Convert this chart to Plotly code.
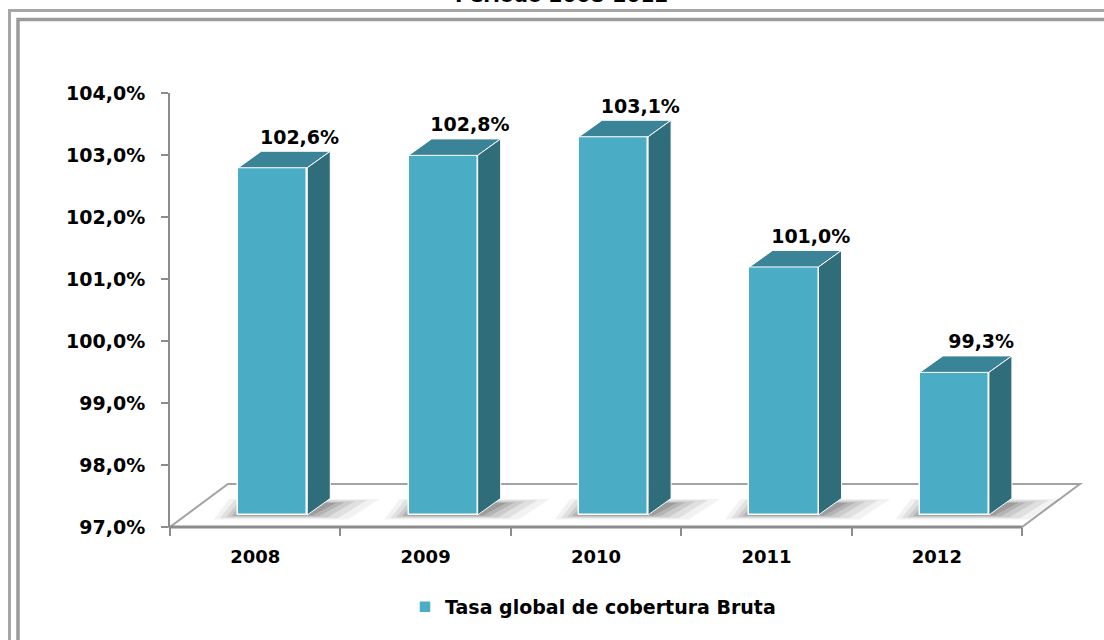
import plotly.graph_objects as go

# ---- data ----
years = ["2008", "2009", "2010", "2011", "2012"]
values = [102.6, 102.8, 103.1, 101.0, 99.3]
series_name = "Tasa global de cobertura Bruta"
title_text = "Periodo 2008-2012"
y_ticks = [97, 98, 99, 100, 101, 102, 103, 104]
y_tick_labels = ["97,0%", "98,0%", "99,0%", "100,0%", "101,0%", "102,0%", "103,0%", "104,0%"]

# ---- style / geometry (in axis units) ----
BASE = 97.0
YMAX = 104.0
FRONT = "#4BACC6"
TOP = "#3B8497"
SIDE = "#306D7B"
FONT = "DejaVu Sans"
W = 0.405          # bar front width
SX, SY = 0.103, 0.194   # shift of bar front plane from axis plane
DX, DY = 0.135, 0.266   # bar depth
FDX, FDY = 0.340, 0.694  # floor depth
X0, X1 = -0.5, len(years) - 0.5 + FDX

ML, MR, MT, MB = 170, 24, 93, 113
FW, FH = 1104, 640
PW, PH = FW - ML - MR, FH - MT - MB


def px_x(p):  # pixel -> paper
    return (p - ML) / PW


def px_y(p):
    return (FH - MB - p) / PH


def dx_paper(x):
    return (x - X0) / (X1 - X0)


def dy_paper(y):
    return (y - BASE) / (YMAX - BASE)


xs = list(range(len(years)))
n = len(years)

fig = go.Figure()

# front faces (bars)
fig.add_trace(go.Bar(
    x=[i + SX for i in xs],
    y=[v - BASE for v in values],
    base=BASE + SY,
    width=W,
    marker=dict(color=FRONT, line=dict(color="white", width=1.5)),
    name=series_name,
    showlegend=True,
))

# top and side faces
for i, v in zip(xs, values):
    xl = i + SX - W / 2
    xr = i + SX + W / 2
    t = v + SY
    b = BASE + SY
    fig.add_trace(go.Scatter(
        x=[xl, xr, xr + DX, xl + DX, xl], y=[t, t, t + DY, t + DY, t],
        fill="toself", fillcolor=TOP, mode="lines",
        line=dict(color="white", width=1), showlegend=False, hoverinfo="skip"))
    fig.add_trace(go.Scatter(
        x=[xr, xr, xr + DX, xr + DX, xr], y=[b, t, t + DY, b + DY, b],
        fill="toself", fillcolor=SIDE, mode="lines",
        line=dict(color="white", width=1), showlegend=False, hoverinfo="skip"))

# data labels
fig.add_trace(go.Scatter(
    x=[i + 0.26 for i in xs], y=[v + 0.66 for v in values],
    mode="text",
    text=[f"{v:.1f}%".replace(".", ",") for v in values],
    textfont=dict(family=FONT, size=19, color="black", weight="bold"),
    cliponaxis=False, showlegend=False, hoverinfo="skip"))

shapes = []
# floor
fx0, fx1 = dx_paper(-0.5), dx_paper(n - 0.5)
fbx0, fbx1 = dx_paper(-0.5 + FDX), dx_paper(n - 0.5 + FDX)
fy0, fy1 = dy_paper(BASE), dy_paper(BASE + FDY)
shapes.append(dict(
    type="path", xref="paper", yref="paper", layer="below",
    path=f"M{fx0},{fy0} L{fx1},{fy0} L{fbx1},{fy1} L{fbx0},{fy1} Z",
    fillcolor="white", line=dict(color="#A3A3A3", width=2)))

# soft shadows around each bar footprint (drawn above the floor)
for ex, op in [(0.12, 0.05), (0.09, 0.07), (0.06, 0.09), (0.035, 0.11), (0.015, 0.13)]:
    for i in xs:
        xl = i + SX - W / 2
        xr = i + SX + W / 2
        b = BASE + SY
        ey = ex * 0.6
        shapes.append(dict(
            type="path", xref="x", yref="y", layer="below",
            path=(f"M{xl - ex * 1.2},{b - ey} L{xr + ex * 2.0},{b - ey} "
                  f"L{xr + DX + ex * 2.4},{b + DY * 0.7 + ey} L{xl + DX * 0.5 - ex},{b + DY * 0.7 + ey} Z"),
            fillcolor=f"rgba(0,0,0,{op})", line=dict(width=0)))

shapes.append(dict(type="line", xref="paper", yref="paper", layer="above",
                   x0=fx0, x1=fx1, y0=fy0, y1=fy0,
                   line=dict(color="#8C8C8C", width=3)))

# outer double frame
shapes.append(dict(type="rect", xref="paper", yref="paper", layer="below",
                   x0=px_x(9.5), x1=px_x(1130), y0=px_y(10.5), y1=px_y(670),
                   line=dict(color="#A6A6A6", width=3), fillcolor="rgba(0,0,0,0)"))
shapes.append(dict(type="rect", xref="paper", yref="paper", layer="below",
                   x0=px_x(18), x1=px_x(1130), y0=px_y(19.5), y1=px_y(670),
                   line=dict(color="#9A9A9A", width=3.5), fillcolor="rgba(0,0,0,0)"))

fig.update_layout(
    width=FW, height=FH,
    margin=dict(l=ML, r=MR, t=MT, b=MB),
    paper_bgcolor="white", plot_bgcolor="rgba(0,0,0,0)",
    shapes=shapes,
    showlegend=True,
    legend=dict(orientation="h", x=px_x(405), xanchor="left",
                y=px_y(607), yanchor="middle",
                font=dict(family=FONT, size=19, color="black", weight="bold"),
                bgcolor="rgba(0,0,0,0)"),
    annotations=[dict(text=title_text, xref="paper", yref="paper",
                      x=px_x(561), y=px_y(9), xanchor="center", yanchor="bottom",
                      showarrow=False,
                      font=dict(family=FONT, size=20, color="black", weight="bold"))],
    bargap=0,
)

fig.update_xaxes(
    range=[X0, X1], tickvals=xs, ticktext=years, ticks="",
    showline=False, showgrid=False, zeroline=False,
    tickfont=dict(family=FONT, size=18, color="black", weight="bold"),
    ticklabelstandoff=17,
    minor=dict(tickvals=[i - 0.5 for i in range(n + 1)], ticks="outside",
               ticklen=8, tickcolor="#8C8C8C", tickwidth=2, showgrid=False),
)
fig.update_yaxes(
    range=[BASE, YMAX], tickvals=y_ticks, ticktext=y_tick_labels,
    showline=True, linecolor="#8C8C8C", linewidth=2,
    ticks="outside", ticklen=7, tickcolor="#8C8C8C", tickwidth=2,
    showgrid=False, zeroline=False,
    tickfont=dict(family=FONT, size=19, color="black", weight="bold"),
    ticklabelstandoff=12,
)

fig.write_html("out.html", config={"displayModeBar": False},
               post_script="document.body.style.margin='0';")
